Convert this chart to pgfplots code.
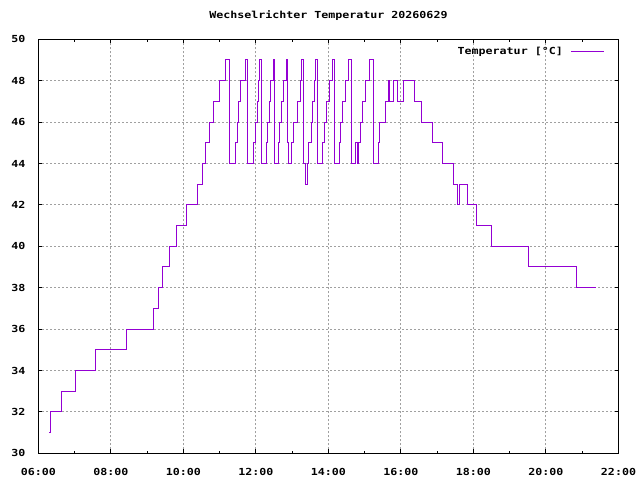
\documentclass[border=0pt]{standalone}
\usepackage{fontspec}
\setmainfont{DejaVu Sans Mono}[FakeStretch=1.2]
\usepackage{pgfplots}
\pgfplotsset{compat=1.18}
\definecolor{lc}{RGB}{148,0,211}
\definecolor{gridc}{RGB}{160,160,160}
\newcommand{\gpfont}{\bfseries\fontsize{9.7bp}{11bp}\selectfont}
\begin{document}
\begin{tikzpicture}
\fill[white] (0,0) rectangle (640bp,480bp);
\useasboundingbox (0,0) rectangle (640bp,480bp);
\begin{axis}[
  at={(38.3bp,26.7bp)}, anchor=south west,
  scale only axis, width=580.2bp, height=414bp,
  xmin=6, xmax=22, ymin=30, ymax=50,
  xtick={6,8,10,12,14,16,18,20,22},
  xticklabels={06:00,08:00,10:00,12:00,14:00,16:00,18:00,20:00,22:00},
  minor xtick={7,9,11,13,15,17,19,21},
  ytick={30,32,34,36,38,40,42,44,46,48,50},
  xmajorgrids, ymajorgrids,
  major grid style={gridc, dash pattern=on 2bp off 2bp, line width=1bp},
  axis line style={line width=1bp, black},
  tick style={black, line width=1bp},
  major tick length=4bp, minor tick length=2.5bp,
  tick align=inside,
  /pgf/number format/assume math mode=true,
  tick label style={font=\gpfont, inner sep=0pt},
  xticklabel style={anchor=base, yshift=-21.7bp},
  yticklabel style={anchor=east, xshift=-12.6bp},
  title={Wechselrichter Temperatur 20260629},
  title style={font=\gpfont, at={(axis description cs:0.5,1)}, anchor=base, yshift=15bp, inner sep=0pt},
  legend plot pos=right,
  legend image code/.code={\draw[#1] (0bp,0bp) -- (33bp,0bp);},
  legend style={draw=none, fill=none, font=\gpfont, at={(axis description cs:1,1)}, anchor=north east,
    xshift=-13.5bp, yshift=-7.7bp, inner sep=0pt, nodes={inner sep=0pt}, column sep=8bp},
]
\addplot[const plot, lc, line width=1bp] coordinates {
(6.303,31) (6.331,32) (6.645,33) (7.019,34) (7.570,35) (8.424,36) (9.168,37) (9.311,38)
(9.435,39) (9.623,40) (9.802,41) (10.083,42) (10.391,43) (10.518,44) (10.612,45) (10.716,46)
(10.835,47) (10.986,48) (11.165,49) (11.267,44) (11.427,45) (11.482,46) (11.529,47) (11.584,48)
(11.722,49) (11.769,44) (11.923,45) (11.983,46) (12.033,47) (12.072,48) (12.107,49) (12.154,44)
(12.292,45) (12.320,46) (12.364,47) (12.410,48) (12.474,49) (12.512,44) (12.617,45) (12.658,46)
(12.713,47) (12.769,48) (12.832,49) (12.860,45) (12.906,44) (12.989,45) (13.044,46) (13.135,47)
(13.229,48) (13.264,49) (13.300,44) (13.375,43) (13.421,44) (13.449,45) (13.521,46) (13.559,47)
(13.614,48) (13.631,49) (13.697,44) (13.843,45) (13.890,46) (13.934,47) (14.028,48) (14.110,49)
(14.174,44) (14.311,45) (14.339,46) (14.386,47) (14.477,48) (14.567,49) (14.642,44) (14.752,45)
(14.799,44) (14.843,45) (14.890,46) (14.945,47) (15.028,48) (15.146,49) (15.248,44) (15.372,45)
(15.413,46) (15.570,47) (15.647,48) (15.697,47) (15.807,48) (15.917,47) (16.074,48) (16.377,47)
(16.570,46) (16.873,45) (17.157,44) (17.438,43) (17.562,42) (17.625,43) (17.846,42) (18.094,41)
(18.507,40) (19.526,39) (20.840,38) (21.383,38)
};
\addlegendentry{Temperatur [°C]}
\end{axis}
\end{tikzpicture}
\end{document}
